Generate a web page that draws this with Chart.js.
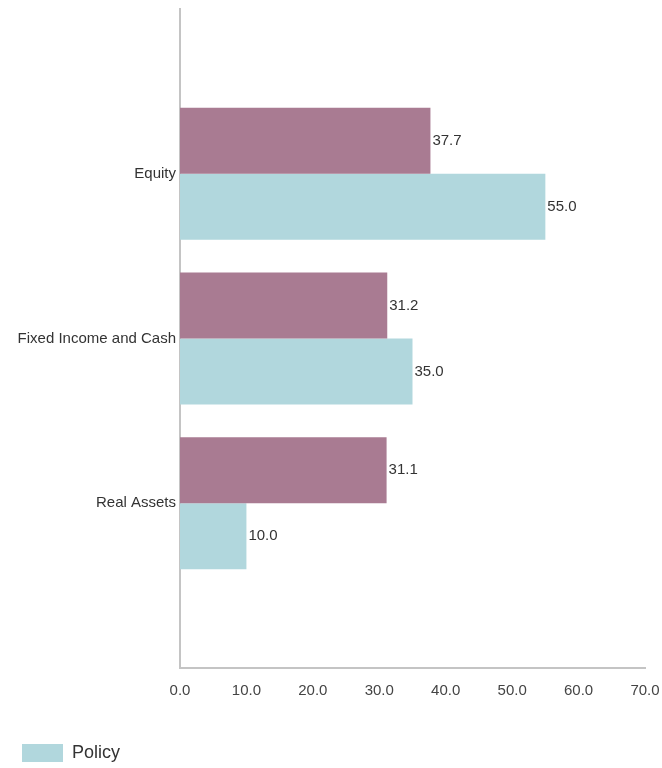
<!DOCTYPE html>
<html>
<head>
<meta charset="utf-8">
<script src="https://cdn.jsdelivr.net/npm/chart.js@4"></script>
<style>
  html, body { margin: 0; padding: 0; background: #fff; }
  #wrap { width: 662px; height: 768px; }
</style>
</head>
<body>
<div id="wrap"><canvas id="myChart" width="662" height="768"></canvas></div>
<script>
const categories = ["Equity", "Fixed Income and Cash", "Real Assets"];
const actualValues = [37.7, 31.2, 31.1];
const policyValues = [55.0, 35.0, 10.0];
const xTicks = [0, 10, 20, 30, 40, 50, 60, 70];

window.addEventListener('DOMContentLoaded', () => {
    generateChart();
});

// empty slots above and below so the bars sit on the inner grid positions
function padded(arr, fill) {
    return [fill, ...arr, fill];
}

const valueLabels = {
    id: 'valueLabels',
    afterDatasetsDraw(chart) {
        const ctx = chart.ctx;
        ctx.save();
        ctx.font = '15px "Liberation Sans", Arial, sans-serif';
        ctx.fillStyle = '#333';
        ctx.textAlign = 'left';
        ctx.textBaseline = 'middle';
        chart.data.datasets.forEach((ds, i) => {
            chart.getDatasetMeta(i).data.forEach((bar, j) => {
                const v = ds.data[j];
                if (v === null) return;
                ctx.fillText(v.toFixed(1), bar.x + 2, bar.y);
            });
        });
        ctx.restore();
    }
};

// fixed legend height so the key sits near the bottom edge
const legendHeight = {
    id: 'legendHeight',
    beforeInit(chart) {
        const fit = chart.legend.fit;
        chart.legend.fit = function () {
            fit.call(this);
            this.height = 34;
        };
    }
};

function generateChart() {
    const ctx = document.getElementById('myChart').getContext('2d');
    Chart.defaults.font.family = '"Liberation Sans", Arial, sans-serif';
    new Chart(ctx, {
        type: 'bar',
        data: {
            labels: padded(categories, ''),
            datasets: [
                {
                    label: 'Actual',
                    data: padded(actualValues, null),
                    backgroundColor: '#a97b92',
                    barPercentage: 1,
                    categoryPercentage: 0.8
                },
                {
                    label: 'Policy',
                    data: padded(policyValues, null),
                    backgroundColor: '#b1d7dd',
                    barPercentage: 1,
                    categoryPercentage: 0.8
                }
            ]
        },
        options: {
            indexAxis: 'y',
            responsive: false,
            animation: false,
            layout: {
                padding: { top: 9, left: 12, right: 0, bottom: 0 }
            },
            scales: {
                x: {
                    min: 0,
                    max: 70,
                    afterBuildTicks: axis => {
                        axis.ticks = xTicks.map(v => ({ value: v }));
                    },
                    afterFit: axis => {
                        axis.height = 66;
                        axis.paddingRight = 17;
                        axis.paddingLeft = 0;
                    },
                    grid: { display: false, drawTicks: false },
                    border: { display: true, color: '#c4c4c4', width: 2 },
                    ticks: {
                        padding: 14,
                        color: '#444',
                        font: { size: 15 },
                        maxRotation: 0,
                        callback: v => v.toFixed(1)
                    }
                },
                y: {
                    offset: false,
                    afterFit: axis => {
                        axis.width = 168;
                        axis.paddingTop = 0;
                        axis.paddingBottom = 0;
                    },
                    grid: { display: false, drawTicks: false },
                    border: { display: true, color: '#c4c4c4', width: 2 },
                    ticks: {
                        padding: 4,
                        color: '#333',
                        font: { size: 15 },
                        autoSkip: false
                    }
                }
            },
            plugins: {
                legend: {
                    position: 'bottom',
                    align: 'start',
                    labels: {
                        filter: item => item.datasetIndex === 1,
                        boxWidth: 41,
                        boxHeight: 18,
                        padding: 10,
                        color: '#333',
                        font: { size: 18 }
                    }
                },
                tooltip: { enabled: false }
            }
        },
        plugins: [valueLabels, legendHeight]
    });
}
</script>
</body>
</html>
